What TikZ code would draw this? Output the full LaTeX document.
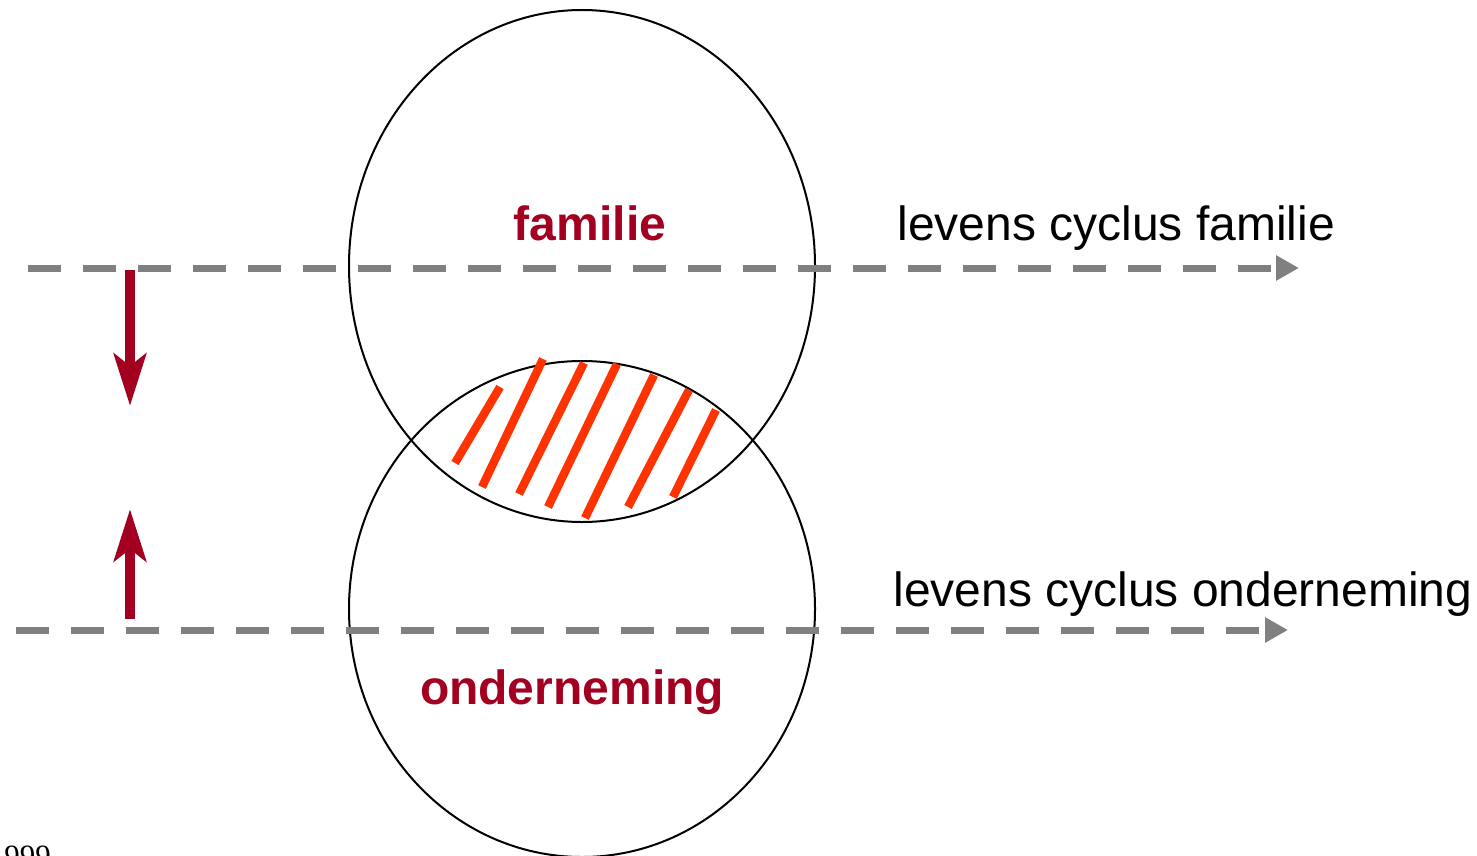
\documentclass[tikz,border=0pt]{standalone}
\usepackage{fontspec}
\setmainfont{Liberation Serif}
\newfontfamily\arial{Liberation Sans}
\usetikzlibrary{arrows.meta,shapes.geometric}
\definecolor{wine}{RGB}{163,0,33}
\definecolor{hatch}{RGB}{255,51,0}
\definecolor{track}{RGB}{128,128,128}
\tikzset{
  lifeset/.style={draw=black,line width=1pt,ellipse,minimum width=233pt,minimum height=256pt,inner sep=0pt},
  track line/.style={draw=track,line width=3.5pt,dash pattern=on 16.5pt off 11pt,-{Triangle[length=11.5pt,width=12pt]}},
  shift arrow/.style={draw=wine,line width=5pt,-{Stealth[length=26pt,width=16pt,inset=6pt]}},
  hatchline/.style={draw=hatch,line width=4.2pt},
  setlabel/.style={font=\arial\bfseries\fontsize{24}{28}\selectfont,text=wine,anchor=base,inner sep=0pt},
  tracklabel/.style={font=\arial\fontsize{24}{28}\selectfont,anchor=base west,inner sep=0pt}
}
\begin{document}
\begin{tikzpicture}[x=0.5pt,y=-0.5pt]
\useasboundingbox (0,0) rectangle (1477,856);
% the two overlapping sets
\node[lifeset] (fam) at (582,266) {};
\node[lifeset,minimum height=248pt] (ond) at (582,609) {};
% hatching of the overlap
\foreach \i/\a/\b/\c/\d in {1/500/387/455/463, 2/543/359/482/487, 3/584/363/519/494,
  4/617/364/548/507, 5/654/375/585/518, 6/689/390/628/507, 7/716/410/673/497}{
  \coordinate (h\i s) at (\a,\b);
  \coordinate (h\i e) at (\c,\d);
  \draw[hatchline] (h\i s) -- (h\i e);
}
% life-cycle tracks
\coordinate (tf0) at (28,268);
\coordinate (tf1) at (1299,268);
\coordinate (to0) at (16,630);
\coordinate (to1) at (1288,630);
\draw[track line] (tf0) -- (tf1);
\draw[track line] (to0) -- (to1);
% influence arrows between the tracks
\coordinate (d0) at (130,270);
\coordinate (d1) at (130,406);
\coordinate (u0) at (130,619);
\coordinate (u1) at (130,509);
\draw[shift arrow] (d0) -- (d1);
\draw[shift arrow] (u0) -- (u1);
% labels
\node[setlabel] (lfam) at (590,240) {familie};
\node[setlabel] (lond) at (572,704) {onderneming};
\node[tracklabel] (ltf) at (897,240) {levens cyclus familie};
\node[tracklabel] (lto) at (893,606) {levens cyclus onderneming};
\node[anchor=base west,inner sep=0pt,font=\fontsize{15.5}{18}\selectfont] (num) at (4,866) {999};
\end{tikzpicture}
\end{document}
